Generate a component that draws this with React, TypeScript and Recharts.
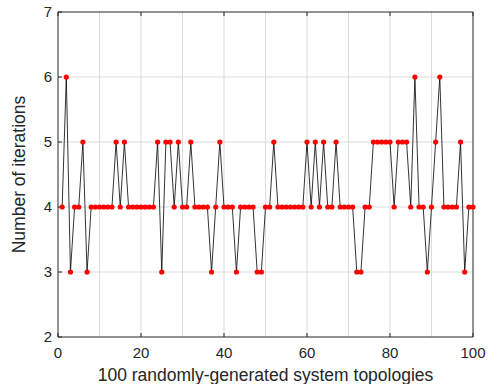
import React from 'react';
import { LineChart, Line, XAxis, YAxis, ReferenceLine } from 'recharts';

const topologies: number[] = Array.from({ length: 100 }, (_, i) => i + 1);
const iterations: number[] = [
  4, 6, 3, 4, 4, 5, 3, 4, 4, 4,
  4, 4, 4, 5, 4, 5, 4, 4, 4, 4,
  4, 4, 4, 5, 3, 5, 5, 4, 5, 4,
  4, 5, 4, 4, 4, 4, 3, 4, 5, 4,
  4, 4, 3, 4, 4, 4, 4, 3, 3, 4,
  4, 5, 4, 4, 4, 4, 4, 4, 4, 5,
  4, 5, 4, 5, 4, 4, 5, 4, 4, 4,
  4, 3, 3, 4, 4, 5, 5, 5, 5, 5,
  4, 5, 5, 5, 4, 6, 4, 4, 3, 4,
  5, 6, 4, 4, 4, 4, 5, 3, 4, 4,
];
const xTicks: number[] = [0, 20, 40, 60, 80, 100];
const xGridValues: number[] = [10, 20, 30, 40, 50, 60, 70, 80, 90];
const yTicks: number[] = [2, 3, 4, 5, 6, 7];
const yGridValues: number[] = [3, 4, 5, 6];

const data = topologies.map((t, i) => ({ t, v: iterations[i] }));

const FONT = 'Arial, "Liberation Sans", Helvetica, sans-serif';
const AXIS = '#262626';
const GRID = '#dcdcdc';

const YLabel = (props: any) => {
  const vb = props.viewBox || {};
  const cx = (vb.x ?? 0) + 19;
  const cy = (vb.y ?? 0) + (vb.height ?? 0) / 2;
  return (
    <text
      x={cx}
      y={cy}
      transform={`rotate(-90 ${cx} ${cy})`}
      textAnchor="middle"
      dominantBaseline="central"
      fill={AXIS}
      fontSize={17.5}
      fontFamily={FONT}
    >
      Number of iterations
    </text>
  );
};

export default function App() {
  return (
    <div style={{ position: 'absolute', left: 0, top: 0, width: 488, height: 384, background: '#fff' }}>
      <LineChart
        width={488}
        height={384}
        data={data}
        margin={{ top: 11, right: 14, bottom: 1, left: 0 }}
      >
        <XAxis
          xAxisId="bottom"
          dataKey="t"
          type="number"
          domain={[0, 100]}
          ticks={xTicks}
          orientation="bottom"
          height={46}
          tickSize={-4}
          tickMargin={14}
          stroke={AXIS}
          tick={{ fill: AXIS, fontSize: 15, fontFamily: FONT }}
          interval={0}
          label={{
            value: '100 randomly-generated system topologies',
            position: 'insideBottom',
            offset: 2,
            fill: AXIS,
            fontSize: 17.5,
            fontFamily: FONT,
          }}
        />
        <XAxis
          xAxisId="top"
          dataKey="t"
          type="number"
          domain={[0, 100]}
          ticks={xTicks}
          orientation="top"
          height={1}
          tickSize={-4}
          tickFormatter={() => ''}
          stroke={AXIS}
          interval={0}
        />
        <YAxis
          yAxisId="left"
          type="number"
          domain={[2, 7]}
          ticks={yTicks}
          orientation="left"
          width={58}
          tickSize={-4}
          tickMargin={10}
          stroke={AXIS}
          tick={{ fill: AXIS, fontSize: 15, fontFamily: FONT }}
          interval={0}
          label={{ content: YLabel }}
        />
        <YAxis
          yAxisId="right"
          type="number"
          domain={[2, 7]}
          ticks={yTicks}
          orientation="right"
          width={1}
          tickSize={-4}
          tickFormatter={() => ''}
          stroke={AXIS}
          interval={0}
        />
        {xGridValues.map((x) => (
          <ReferenceLine
            key={`gx${x}`}
            x={x}
            xAxisId="bottom"
            yAxisId="left"
            stroke={GRID}
            strokeWidth={1}
            ifOverflow="visible"
          />
        ))}
        {yGridValues.map((y) => (
          <ReferenceLine
            key={`gy${y}`}
            y={y}
            xAxisId="bottom"
            yAxisId="left"
            stroke={GRID}
            strokeWidth={1}
            ifOverflow="visible"
          />
        ))}
        <Line
          xAxisId="bottom"
          yAxisId="left"
          dataKey="v"
          type="linear"
          stroke="#000"
          strokeWidth={0.8}
          dot={{ r: 2.6, fill: '#ff0000', stroke: '#ff0000', strokeWidth: 0 }}
          activeDot={false}
          isAnimationActive={false}
        />
      </LineChart>
    </div>
  );
}
